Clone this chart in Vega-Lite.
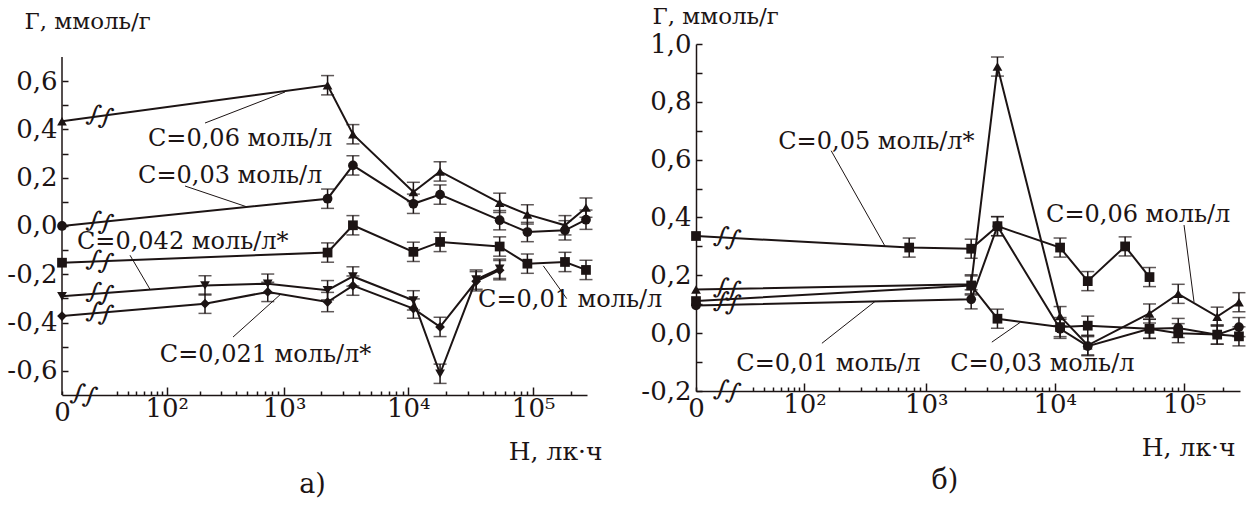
{
  "$schema": "https://vega.github.io/schema/vega-lite/v6.json",
  "background": "white",
  "padding": {"left": 6, "top": 5, "right": 0, "bottom": 0},
  "bounds": "flush",
  "spacing": 109,
  "resolve": {"scale": {"shape": "independent"}},
  "config": {"view": {"stroke": null}, "font": "DejaVu Serif", "text": {"font": "DejaVu Serif"}, "title": {"font": "DejaVu Serif"}, "axis": {"labelFont": "DejaVu Serif", "titleFont": "DejaVu Serif"}},
  "datasets": {
    "a": [
      {"series": "a06", "H": 0, "G": 0.434, "err": 0},
      {"series": "a06", "H": 2250, "G": 0.583, "err": 0.04},
      {"series": "a06", "H": 3600, "G": 0.38, "err": 0.04},
      {"series": "a06", "H": 11000, "G": 0.141, "err": 0.04},
      {"series": "a06", "H": 18000, "G": 0.226, "err": 0.04},
      {"series": "a06", "H": 54000, "G": 0.096, "err": 0.04},
      {"series": "a06", "H": 90000, "G": 0.048, "err": 0.04},
      {"series": "a06", "H": 180000, "G": 0.003, "err": 0.04},
      {"series": "a06", "H": 265000, "G": 0.076, "err": 0.04},
      {"series": "a03", "H": 0, "G": 0.0, "err": 0},
      {"series": "a03", "H": 2250, "G": 0.113, "err": 0.04},
      {"series": "a03", "H": 3600, "G": 0.251, "err": 0.04},
      {"series": "a03", "H": 11000, "G": 0.092, "err": 0.04},
      {"series": "a03", "H": 18000, "G": 0.13, "err": 0.04},
      {"series": "a03", "H": 54000, "G": 0.024, "err": 0.04},
      {"series": "a03", "H": 90000, "G": -0.025, "err": 0.04},
      {"series": "a03", "H": 180000, "G": -0.018, "err": 0.04},
      {"series": "a03", "H": 265000, "G": 0.026, "err": 0.04},
      {"series": "a01", "H": 0, "G": -0.152, "err": 0},
      {"series": "a01", "H": 2250, "G": -0.11, "err": 0.04},
      {"series": "a01", "H": 3600, "G": 0.003, "err": 0.04},
      {"series": "a01", "H": 11000, "G": -0.107, "err": 0.04},
      {"series": "a01", "H": 18000, "G": -0.066, "err": 0.04},
      {"series": "a01", "H": 54000, "G": -0.085, "err": 0.04},
      {"series": "a01", "H": 90000, "G": -0.156, "err": 0.04},
      {"series": "a01", "H": 180000, "G": -0.149, "err": 0.04},
      {"series": "a01", "H": 265000, "G": -0.182, "err": 0.04},
      {"series": "a042", "H": 0, "G": -0.291, "err": 0},
      {"series": "a042", "H": 220, "G": -0.246, "err": 0.04},
      {"series": "a042", "H": 736, "G": -0.239, "err": 0.04},
      {"series": "a042", "H": 2250, "G": -0.266, "err": 0.04},
      {"series": "a042", "H": 3600, "G": -0.209, "err": 0.04},
      {"series": "a042", "H": 11000, "G": -0.308, "err": 0.04},
      {"series": "a042", "H": 18000, "G": -0.612, "err": 0.04},
      {"series": "a042", "H": 35000, "G": -0.222, "err": 0.04},
      {"series": "a042", "H": 54000, "G": -0.177, "err": 0.04},
      {"series": "a021", "H": 0, "G": -0.373, "err": 0},
      {"series": "a021", "H": 220, "G": -0.322, "err": 0.04},
      {"series": "a021", "H": 736, "G": -0.273, "err": 0.04},
      {"series": "a021", "H": 2250, "G": -0.315, "err": 0.04},
      {"series": "a021", "H": 3600, "G": -0.247, "err": 0.04},
      {"series": "a021", "H": 11000, "G": -0.342, "err": 0.04},
      {"series": "a021", "H": 18000, "G": -0.418, "err": 0.04},
      {"series": "a021", "H": 35000, "G": -0.229, "err": 0.04},
      {"series": "a021", "H": 54000, "G": -0.183, "err": 0.04}
    ],
    "b": [
      {"series": "b05", "H": 0, "G": 0.336, "err": 0},
      {"series": "b05", "H": 736, "G": 0.296, "err": 0.033},
      {"series": "b05", "H": 2250, "G": 0.292, "err": 0.033},
      {"series": "b05", "H": 3600, "G": 0.37, "err": 0.033},
      {"series": "b05", "H": 11000, "G": 0.296, "err": 0.033},
      {"series": "b05", "H": 18000, "G": 0.18, "err": 0.033},
      {"series": "b05", "H": 35000, "G": 0.3, "err": 0.033},
      {"series": "b05", "H": 54000, "G": 0.194, "err": 0.033},
      {"series": "b06", "H": 0, "G": 0.151, "err": 0},
      {"series": "b06", "H": 2250, "G": 0.169, "err": 0.033},
      {"series": "b06", "H": 3600, "G": 0.922, "err": 0.033},
      {"series": "b06", "H": 11000, "G": 0.059, "err": 0.033},
      {"series": "b06", "H": 18000, "G": -0.042, "err": 0.033},
      {"series": "b06", "H": 54000, "G": 0.068, "err": 0.033},
      {"series": "b06", "H": 90000, "G": 0.136, "err": 0.033},
      {"series": "b06", "H": 180000, "G": 0.057, "err": 0.033},
      {"series": "b06", "H": 265000, "G": 0.107, "err": 0.033},
      {"series": "b01", "H": 0, "G": 0.096, "err": 0},
      {"series": "b01", "H": 2250, "G": 0.117, "err": 0.033},
      {"series": "b01", "H": 3600, "G": 0.37, "err": 0.033},
      {"series": "b01", "H": 11000, "G": 0.015, "err": 0.033},
      {"series": "b01", "H": 18000, "G": -0.045, "err": 0.033},
      {"series": "b01", "H": 54000, "G": 0.015, "err": 0.033},
      {"series": "b01", "H": 90000, "G": 0.018, "err": 0.033},
      {"series": "b01", "H": 180000, "G": -0.005, "err": 0.033},
      {"series": "b01", "H": 265000, "G": 0.021, "err": 0.033},
      {"series": "b03", "H": 0, "G": 0.111, "err": 0},
      {"series": "b03", "H": 2250, "G": 0.165, "err": 0.033},
      {"series": "b03", "H": 3600, "G": 0.05, "err": 0.033},
      {"series": "b03", "H": 11000, "G": 0.021, "err": 0.033},
      {"series": "b03", "H": 18000, "G": 0.026, "err": 0.033},
      {"series": "b03", "H": 54000, "G": 0.015, "err": 0.033},
      {"series": "b03", "H": 90000, "G": 0.0, "err": 0.033},
      {"series": "b03", "H": 180000, "G": -0.005, "err": 0.033},
      {"series": "b03", "H": 265000, "G": -0.011, "err": 0.033}
    ],
    "txtA": [
      {"label": "C=0,06 моль/л", "H": 65.9, "G": 0.36},
      {"label": "C=0,03 моль/л", "H": 52, "G": 0.207},
      {"label": "C=0,042 моль/л*", "H": 5.4, "G": -0.066},
      {"label": "C=0,021 моль/л*", "H": 86, "G": -0.534},
      {"label": "C=0,01 моль/л", "H": 36260, "G": -0.306}
    ],
    "ptrA": [
      {"H": 220, "G": 0.4265, "H2": 1018, "G2": 0.555},
      {"H": 147, "G": 0.1656, "H2": 497, "G2": 0.079},
      {"H": 42.5, "G": -0.121, "H2": 69, "G2": -0.262},
      {"H": 380, "G": -0.46, "H2": 927, "G2": -0.285},
      {"H": 185780, "G": -0.301, "H2": 120680, "G2": -0.165}
    ],
    "brkA": [
      {"H": 17.2, "G": 0.455},
      {"H": 17.2, "G": 0.016},
      {"H": 17.2, "G": -0.146},
      {"H": 17.2, "G": -0.279},
      {"H": 17.2, "G": -0.36},
      {"H": 8.5, "G": -0.7}
    ],
    "txtB": [
      {"label": "C=0,05 моль/л*", "H": 56.4, "G": 0.662},
      {"label": "C=0,06 моль/л", "H": 8568, "G": 0.409},
      {"label": "C=0,01 моль/л", "H": 17.8, "G": -0.1075},
      {"label": "C=0,03 моль/л", "H": 1543, "G": -0.1075}
    ],
    "ptrB": [
      {"H": 171, "G": 0.631, "H2": 474, "G2": 0.3},
      {"H": 99800, "G": 0.374, "H2": 119170, "G2": 0.108},
      {"H": 142.5, "G": -0.035, "H2": 394, "G2": 0.11},
      {"H": 3256, "G": -0.031, "H2": 5394, "G2": 0.037}
    ],
    "brkB": [
      {"H": 12.7, "G": 0.33},
      {"H": 12.7, "G": 0.153},
      {"H": 12.7, "G": 0.105},
      {"H": 12.7, "G": -0.2}
    ]
  },
  "hconcat": [
    {
      "width": 525,
      "height": 351,
      "title": {"text": "а)", "orient": "bottom", "fontSize": 27, "font": "DejaVu Serif", "fontWeight": "normal", "color": "#1c1414", "dx": -12, "offset": 8},
      "encoding": {
        "x": {
          "field": "H", "type": "quantitative",
          "scale": {"type": "symlog", "constant": 17, "domain": [0, 270000], "nice": false, "zero": false},
          "axis": {
            "title": "H, лк·ч", "titleFont": "DejaVu Serif", "titleFontSize": 25, "titleFontWeight": "normal", "titleColor": "#1c1414",
            "titleAlign": "right", "titleBaseline": "alphabetic", "titleX": 540, "titleY": 64,
            "values": [0, 30, 40, 50, 60, 70, 80, 90, 100, 200, 300, 400, 500, 600, 700, 800, 900, 1000, 2000, 3000, 4000, 5000, 6000, 7000, 8000, 9000, 10000, 20000, 30000, 40000, 50000, 60000, 70000, 80000, 90000, 100000, 200000],
            "labelExpr": "datum.value == 0 ? '0' : datum.value == 100 ? '10²' : datum.value == 1000 ? '10³' : datum.value == 10000 ? '10⁴' : datum.value == 100000 ? '10⁵' : ''",
            "labelFlush": false, "labelOverlap": false, "labelFont": "DejaVu Serif", "labelFontSize": 26, "labelColor": "#1c1414", "labelPadding": 8, "labelBaseline": "top",
            "tickSize": {"condition": {"test": "datum.value == 100 || datum.value == 1000 || datum.value == 10000 || datum.value == 100000", "value": -8}, "value": -4},
            "tickColor": "#1c1414", "tickWidth": 1.5, "domainColor": "#1c1414", "domainWidth": 1.5, "grid": false
          }
        },
        "y": {
          "field": "G", "type": "quantitative",
          "scale": {"domain": [-0.7, 0.7538], "nice": false, "zero": false},
          "axis": {
            "title": "Г, ммоль/г", "titleFont": "DejaVu Serif", "titleFontSize": 23, "titleFontWeight": "normal", "titleColor": "#1c1414",
            "titleAngle": 0, "titleAlign": "left", "titleBaseline": "alphabetic", "titleX": -38, "titleY": -16,
            "values": [-0.6, -0.5, -0.4, -0.3, -0.2, -0.1, 0, 0.1, 0.2, 0.3, 0.4, 0.5, 0.6],
            "labelExpr": "abs(round(datum.value*10)) % 2 == 0 ? (datum.value < -0.001 ? '-' : '') + replace(format(abs(datum.value), '.1f'), '.', ',') : ''",
            "labelFlush": false, "labelOverlap": false, "labelFont": "DejaVu Serif", "labelFontSize": 26, "labelColor": "#1c1414", "labelPadding": 11,
            "tickSize": -6, "tickColor": "#1c1414", "tickWidth": 1.5, "domain": false, "grid": false
          }
        }
      },
      "layer": [
        {"data": {"values": [{"H": 0, "G": -0.7, "G2": 0.7}]}, "mark": {"type": "rule", "color": "#1c1414", "strokeWidth": 1.5}, "encoding": {"y2": {"field": "G2"}}},
        {"data": {"name": "a"}, "mark": {"type": "line", "color": "#1c1414", "strokeWidth": 2}, "encoding": {"detail": {"field": "series"}, "order": {"field": "H"}}},
        {"data": {"name": "a"}, "transform": [{"filter": "datum.err > 0"}], "mark": {"type": "errorbar", "color": "#1c1414", "thickness": 1.5, "ticks": {"size": 13, "thickness": 1.5}}, "encoding": {"yError": {"field": "err"}}},
        {"data": {"name": "a"}, "mark": {"type": "point", "filled": true, "opacity": 1, "size": 95, "color": "#1c1414"}, "encoding": {"shape": {"field": "series", "type": "nominal", "scale": {"domain": ["a06", "a03", "a01", "a042", "a021"], "range": ["triangle-up", "circle", "square", "triangle-down", "diamond"]}, "legend": null}}},
        {"data": {"name": "ptrA"}, "mark": {"type": "rule", "color": "#1c1414", "strokeWidth": 1}, "encoding": {"x2": {"field": "H2"}, "y2": {"field": "G2"}}},
        {"data": {"name": "txtA"}, "mark": {"type": "text", "align": "left", "baseline": "middle", "font": "DejaVu Serif", "fontSize": 24, "color": "#1c1414"}, "encoding": {"text": {"field": "label"}}},
        {"data": {"name": "brkA"}, "mark": {"type": "text", "text": "∫∫", "align": "center", "baseline": "middle", "font": "DejaVu Serif", "fontSize": 24, "angle": 15, "color": "#1c1414"}}
      ]
    },
    {
      "width": 544,
      "height": 347,
      "title": {"text": "б)", "orient": "bottom", "fontSize": 27, "font": "DejaVu Serif", "fontWeight": "normal", "color": "#1c1414", "dx": -23, "offset": 8},
      "encoding": {
        "x": {
          "field": "H", "type": "quantitative",
          "scale": {"type": "symlog", "constant": 17, "domain": [0, 270000], "nice": false, "zero": false},
          "axis": {
            "title": "H, лк·ч", "titleFont": "DejaVu Serif", "titleFontSize": 25, "titleFontWeight": "normal", "titleColor": "#1c1414",
            "titleAlign": "right", "titleBaseline": "alphabetic", "titleX": 539, "titleY": 64,
            "values": [0, 30, 40, 50, 60, 70, 80, 90, 100, 200, 300, 400, 500, 600, 700, 800, 900, 1000, 2000, 3000, 4000, 5000, 6000, 7000, 8000, 9000, 10000, 20000, 30000, 40000, 50000, 60000, 70000, 80000, 90000, 100000, 200000],
            "labelExpr": "datum.value == 0 ? '0' : datum.value == 100 ? '10²' : datum.value == 1000 ? '10³' : datum.value == 10000 ? '10⁴' : datum.value == 100000 ? '10⁵' : ''",
            "labelFlush": false, "labelOverlap": false, "labelFont": "DejaVu Serif", "labelFontSize": 26, "labelColor": "#1c1414", "labelPadding": 8, "labelBaseline": "top",
            "tickSize": {"condition": {"test": "datum.value == 100 || datum.value == 1000 || datum.value == 10000 || datum.value == 100000", "value": -8}, "value": -4},
            "tickColor": "#1c1414", "tickWidth": 1.5, "domainColor": "#1c1414", "domainWidth": 1.5, "grid": false
          }
        },
        "y": {
          "field": "G", "type": "quantitative",
          "scale": {"domain": [-0.2, 1.0], "nice": false, "zero": false},
          "axis": {
            "title": "Г, ммоль/г", "titleFont": "DejaVu Serif", "titleFontSize": 23, "titleFontWeight": "normal", "titleColor": "#1c1414",
            "titleAngle": 0, "titleAlign": "left", "titleBaseline": "alphabetic", "titleX": -44, "titleY": -21,
            "values": [-0.2, -0.1, 0, 0.1, 0.2, 0.3, 0.4, 0.5, 0.6, 0.7, 0.8, 0.9, 1.0],
            "labelExpr": "abs(round(datum.value*10)) % 2 == 0 ? (datum.value < -0.001 ? '-' : '') + replace(format(abs(datum.value), '.1f'), '.', ',') : ''",
            "labelFlush": false, "labelOverlap": false, "labelFont": "DejaVu Serif", "labelFontSize": 26, "labelColor": "#1c1414", "labelPadding": 11,
            "tickSize": -6, "tickColor": "#1c1414", "tickWidth": 1.5, "domainColor": "#1c1414", "domainWidth": 1.5, "grid": false
          }
        }
      },
      "layer": [
        {"data": {"name": "b"}, "mark": {"type": "line", "color": "#1c1414", "strokeWidth": 2}, "encoding": {"detail": {"field": "series"}, "order": {"field": "H"}}},
        {"data": {"name": "b"}, "transform": [{"filter": "datum.err > 0"}], "mark": {"type": "errorbar", "color": "#1c1414", "thickness": 1.5, "ticks": {"size": 13, "thickness": 1.5}}, "encoding": {"yError": {"field": "err"}}},
        {"data": {"name": "b"}, "mark": {"type": "point", "filled": true, "opacity": 1, "size": 95, "color": "#1c1414"}, "encoding": {"shape": {"field": "series", "type": "nominal", "scale": {"domain": ["b05", "b06", "b01", "b03"], "range": ["square", "triangle-up", "circle", "square"]}, "legend": null}}},
        {"data": {"name": "ptrB"}, "mark": {"type": "rule", "color": "#1c1414", "strokeWidth": 1}, "encoding": {"x2": {"field": "H2"}, "y2": {"field": "G2"}}},
        {"data": {"name": "txtB"}, "mark": {"type": "text", "align": "left", "baseline": "middle", "font": "DejaVu Serif", "fontSize": 24, "color": "#1c1414"}, "encoding": {"text": {"field": "label"}}},
        {"data": {"name": "brkB"}, "mark": {"type": "text", "text": "∫∫", "align": "center", "baseline": "middle", "font": "DejaVu Serif", "fontSize": 24, "angle": 15, "color": "#1c1414"}}
      ]
    }
  ]
}
